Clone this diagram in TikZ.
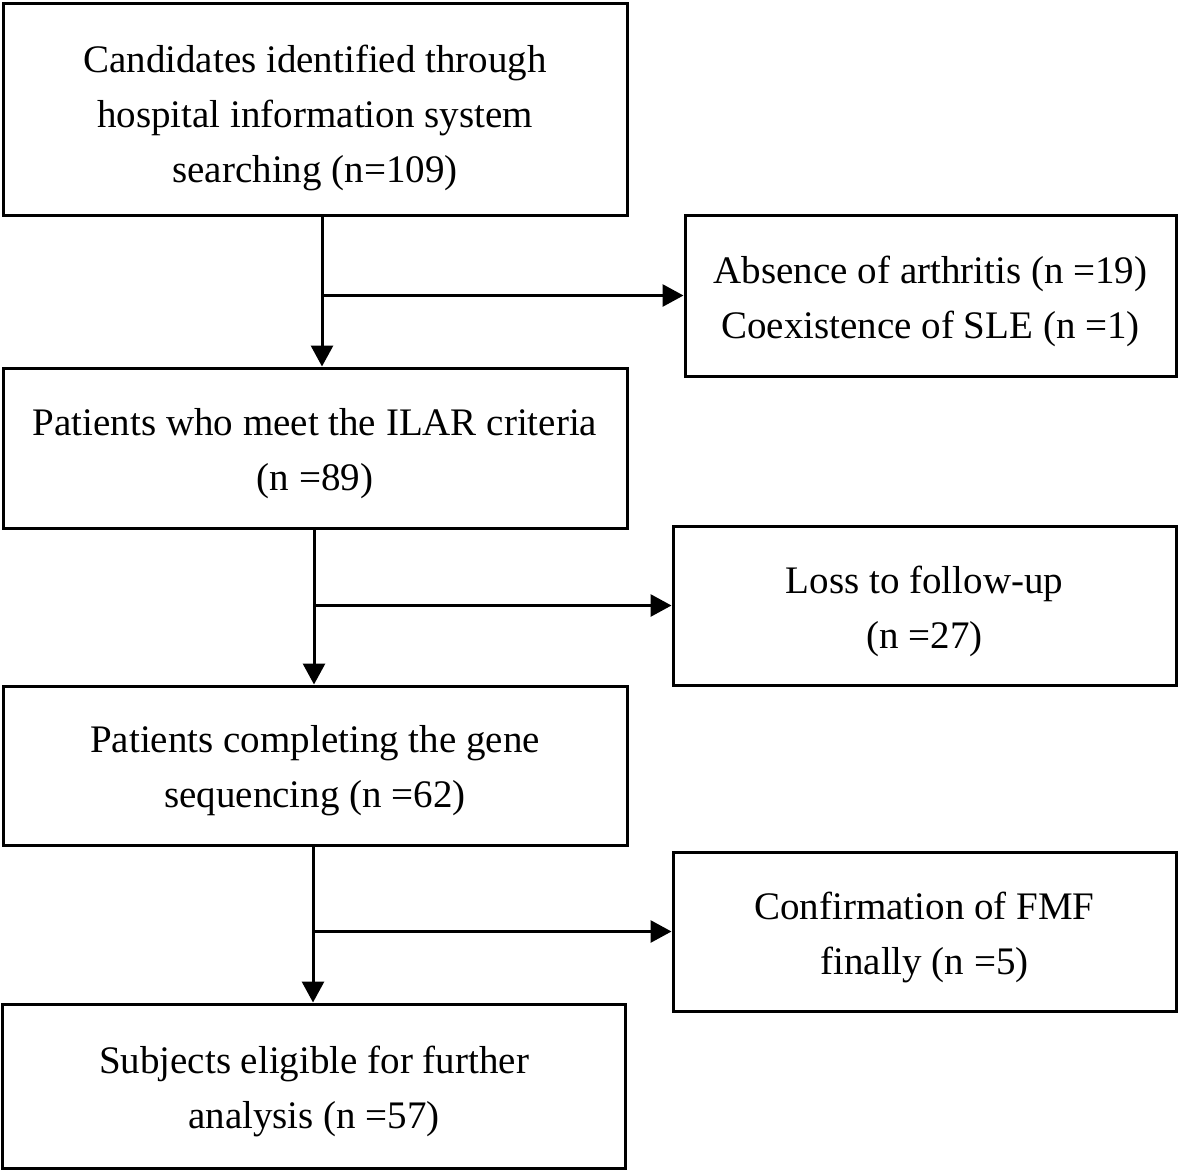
\documentclass[tikz,border=0pt]{standalone}
\usepackage{fontspec}
\setmainfont{Liberation Serif}
\usetikzlibrary{arrows.meta}
\begin{document}
\begin{tikzpicture}[x=1pt,y=-1pt,
  box/.style={draw,line width=3pt,inner sep=0pt},
  txt/.style={inner sep=0pt,align=center,font=\fontsize{39}{55}\selectfont},
  arr/.style={line width=3pt,-{Triangle[length=21pt,width=22pt]}}]
\useasboundingbox (0,0) rectangle (1181,1173);
\node[box,minimum width=624pt,minimum height=212pt] (b1) at (315,109) {};
\node[box,minimum width=491pt,minimum height=161pt] (b2) at (930.5,295.5) {};
\node[box,minimum width=624pt,minimum height=160pt] (b3) at (315,448) {};
\node[box,minimum width=503pt,minimum height=159pt] (b4) at (924.5,605.5) {};
\node[box,minimum width=624pt,minimum height=159pt] (b5) at (315,765.5) {};
\node[box,minimum width=503pt,minimum height=159pt] (b6) at (924.5,931.5) {};
\node[box,minimum width=623pt,minimum height=164pt] (b7) at (314,1086) {};
\node[txt] (t1) at ([yshift=-9pt]b1.center)
  {Candidates identified through\\hospital information system\\searching (n=109)};
\node[txt] (t2) at ([yshift=-6pt]b2.center)
  {Absence of arthritis (n =19)\\Coexistence of SLE (n =1)};
\node[txt] (t3) at ([yshift=-5.5pt]b3.center)
  {Patients who meet the ILAR criteria\\(n =89)};
\node[txt] (t4) at ([yshift=-5.5pt]b4.center)
  {Loss to follow-up\\(n =27)};
\node[txt] (t5) at ([yshift=-5.5pt]b5.center)
  {Patients completing the gene\\sequencing (n =62)};
\node[txt] (t6) at ([yshift=-5.5pt]b6.center)
  {Confirmation of FMF\\finally (n =5)};
\node[txt] (t7) at ([yshift=-5pt]b7.center)
  {Subjects eligible for further\\analysis (n =57)};
\coordinate (v1) at (322,0);
\coordinate (v2) at (314,0);
\coordinate (v3) at (313,0);
\draw[arr] (b1.south -| v1) -- (b3.north -| v1);
\draw[arr] (b2.west -| v1) -- (b2.west);
\draw[arr] (b3.south -| v2) -- (b5.north -| v2);
\draw[arr] (b4.west -| v2) -- (b4.west);
\draw[arr] (b5.south -| v3) -- (b7.north -| v3);
\draw[arr] (b6.west -| v3) -- (b6.west);
\end{tikzpicture}
\end{document}
